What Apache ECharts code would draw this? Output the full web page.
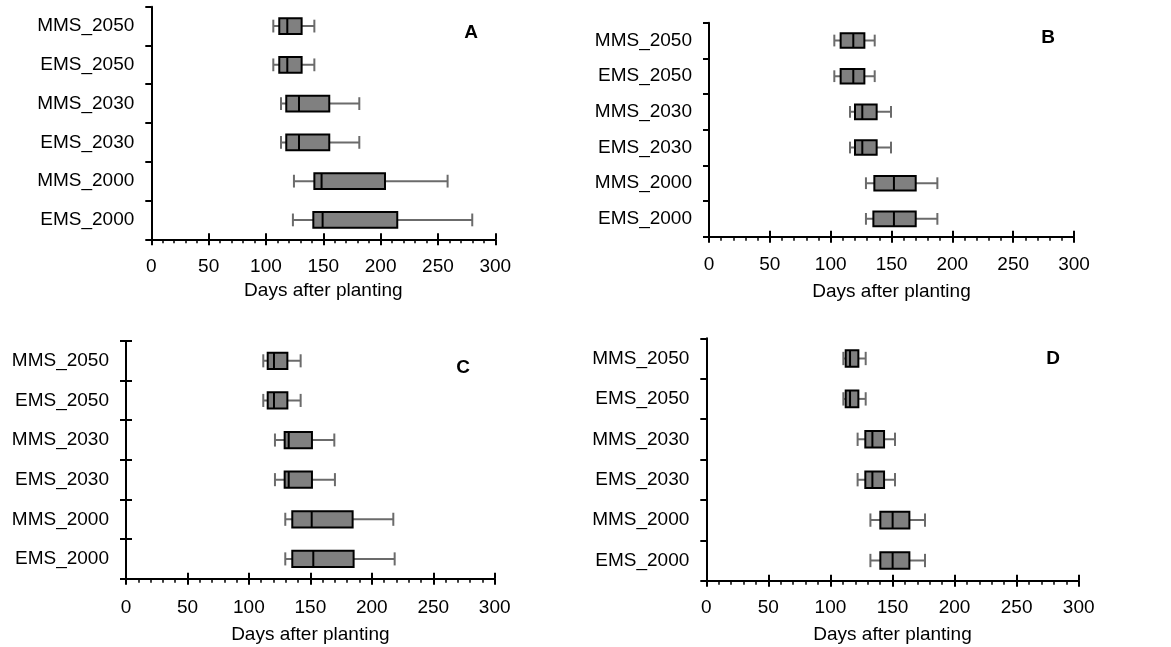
<!DOCTYPE html>
<html>
<head>
<meta charset="utf-8">
<script src="https://cdn.jsdelivr.net/npm/echarts@6/dist/echarts.min.js"></script>
<style>
html,body{margin:0;padding:0;background:#fff;}
#chart{width:1171px;height:647px;}
</style>
</head>
<body>
<div id="chart"></div>
<script>
// Categories bottom -> top
const categories = ['EMS_2000', 'MMS_2000', 'EMS_2030', 'MMS_2030', 'EMS_2050', 'MMS_2050'];
const xTicks = [0, 50, 100, 150, 200, 250, 300];
const xTitle = 'Days after planting';
const panelLetters = ['A', 'B', 'C', 'D'];

// each row: [min, q1, median, q3, max], order matches categories
const panelA = [
  [123.5, 141.3, 149.4, 214.5, 279.9],
  [124.4, 142.2, 148.5, 203.8, 258.4],
  [113.1, 117.7, 128.8, 155.2, 181.4],
  [113.1, 117.7, 128.8, 155.2, 181.4],
  [106.4, 111.6, 118.6, 131.1, 142.2],
  [106.4, 111.6, 118.6, 131.1, 142.2]
];
const panelB = [
  [129.0, 135.1, 152.0, 169.9, 187.7],
  [129.0, 135.9, 152.0, 169.9, 187.7],
  [115.9, 120.0, 126.0, 137.8, 149.6],
  [115.9, 120.0, 126.0, 137.8, 149.6],
  [103.0, 108.2, 118.6, 127.7, 136.2],
  [103.0, 108.2, 118.6, 127.7, 136.2]
];
const panelC = [
  [129.6, 135.3, 152.4, 185.2, 218.6],
  [129.6, 135.3, 151.1, 184.4, 217.5],
  [121.2, 129.1, 132.4, 151.3, 170.0],
  [121.2, 129.1, 132.4, 151.3, 169.5],
  [111.7, 115.3, 120.4, 131.3, 142.1],
  [111.7, 115.3, 120.4, 131.3, 142.1]
];
const panelD = [
  [132.2, 140.2, 150.1, 163.6, 176.2],
  [132.2, 140.2, 150.1, 163.6, 176.2],
  [121.9, 128.1, 133.8, 143.2, 152.0],
  [121.9, 128.1, 133.8, 143.2, 152.0],
  [110.4, 112.3, 115.8, 122.5, 128.4],
  [110.4, 112.3, 115.8, 122.5, 128.4]
];
const panels = [panelA, panelB, panelC, panelD];

const FONT = 'Liberation Sans, Arial, sans-serif';
const grids = [
  {left: 151.3, top: 6.7, width: 344, height: 232.6},
  {left: 709, top: 22.7, width: 365, height: 214},
  {left: 126, top: 341, width: 368.7, height: 237.7},
  {left: 706.3, top: 338.3, width: 372.4, height: 242.4}
];
const labelMargins = [18, 19, 20, 18];
const nameGaps = [42, 46, 47, 45];
const letterPos = [[471, 33], [1048, 38], [463, 368], [1053, 359]];

function renderItem(params, api) {
  const cat = api.value(0);
  const vMin = api.value(1), q1 = api.value(2), med = api.value(3), q3 = api.value(4), vMax = api.value(5);
  const band = api.size([0, 1])[1];
  const boxH = band * 0.41;
  const capH = band * 0.33;
  const pMin = api.coord([vMin, cat]);
  const pQ1 = api.coord([q1, cat]);
  const pMed = api.coord([med, cat]);
  const pQ3 = api.coord([q3, cat]);
  const pMax = api.coord([vMax, cat]);
  const cy = pMed[1];
  const wStyle = {stroke: '#6b6b6b', lineWidth: 2};
  return {
    type: 'group',
    children: [
      {type: 'line', shape: {x1: pMin[0], y1: cy, x2: pMax[0], y2: cy}, style: wStyle},
      {type: 'line', shape: {x1: pMin[0], y1: cy - capH / 2, x2: pMin[0], y2: cy + capH / 2}, style: wStyle},
      {type: 'line', shape: {x1: pMax[0], y1: cy - capH / 2, x2: pMax[0], y2: cy + capH / 2}, style: wStyle},
      {type: 'rect', shape: {x: pQ1[0], y: cy - boxH / 2, width: pQ3[0] - pQ1[0], height: boxH},
        style: {fill: '#808080', stroke: '#000', lineWidth: 2}},
      {type: 'line', shape: {x1: pMed[0], y1: cy - boxH / 2, x2: pMed[0], y2: cy + boxH / 2},
        style: {stroke: '#000', lineWidth: 2}}
    ]
  };
}

const xAxes = [], yAxes = [], series = [], graphics = [];
grids.forEach((g, i) => {
  xAxes.push({
    type: 'value', gridIndex: i, position: 'bottom', min: xTicks[0], max: xTicks[xTicks.length - 1], interval: 50,
    name: xTitle, nameLocation: 'middle', nameGap: nameGaps[i],
    nameTextStyle: {color: '#000', fontSize: 19, fontFamily: FONT},
    axisLine: {show: true, lineStyle: {color: '#000', width: 2}},
    axisTick: {show: true, length: 6, lineStyle: {color: '#000', width: 2}},
    minorTick: {show: true, splitNumber: 5, length: 4, lineStyle: {color: '#000', width: 1.5}},
    axisLabel: {color: '#000', fontSize: 19, fontFamily: FONT, margin: labelMargins[i]},
    splitLine: {show: false}, minorSplitLine: {show: false}
  });
  // inside ticks so major ticks cross the axis
  xAxes.push({
    type: 'value', gridIndex: i, position: 'bottom', min: xTicks[0], max: xTicks[xTicks.length - 1], interval: 50,
    axisLine: {show: false},
    axisTick: {show: true, inside: true, length: 6, lineStyle: {color: '#000', width: 2}},
    axisLabel: {show: false}, splitLine: {show: false}
  });
  yAxes.push({
    type: 'category', gridIndex: i, position: 'left', data: categories,
    axisLine: {show: true, lineStyle: {color: '#000', width: 2}},
    axisTick: {show: true, length: 6, lineStyle: {color: '#000', width: 2}},
    axisLabel: {color: '#000', fontSize: 19, fontFamily: FONT, margin: 17},
    splitLine: {show: false}
  });
  if (i === 2) {
    yAxes.push({
      type: 'category', gridIndex: i, position: 'left', data: categories,
      axisLine: {show: false},
      axisTick: {show: true, inside: true, length: 6, lineStyle: {color: '#000', width: 2}},
      axisLabel: {show: false}, splitLine: {show: false}
    });
  }
});

function yIdx(i) { return i <= 2 ? i : i + 1; }

panels.forEach((p, i) => {
  series.push({
    type: 'custom',
    xAxisIndex: i * 2,
    yAxisIndex: yIdx(i),
    renderItem: renderItem,
    encode: {y: 0, x: [1, 2, 3, 4, 5]},
    data: p.map((r, k) => [k].concat(r)),
    silent: true,
    animation: false
  });
  graphics.push({
    type: 'text', x: letterPos[i][0], y: letterPos[i][1],
    style: {text: panelLetters[i], fontSize: 19, fontWeight: 'bold', fontFamily: FONT, fill: '#000',
      align: 'center', verticalAlign: 'middle'}
  });
});

const chart = echarts.init(document.getElementById('chart'), null, {renderer: 'canvas'});
chart.setOption({
  backgroundColor: '#fff',
  animation: false,
  grid: grids.map(g => Object.assign({containLabel: false}, g)),
  xAxis: xAxes,
  yAxis: yAxes,
  series: series,
  graphic: graphics
});
</script>
</body>
</html>
